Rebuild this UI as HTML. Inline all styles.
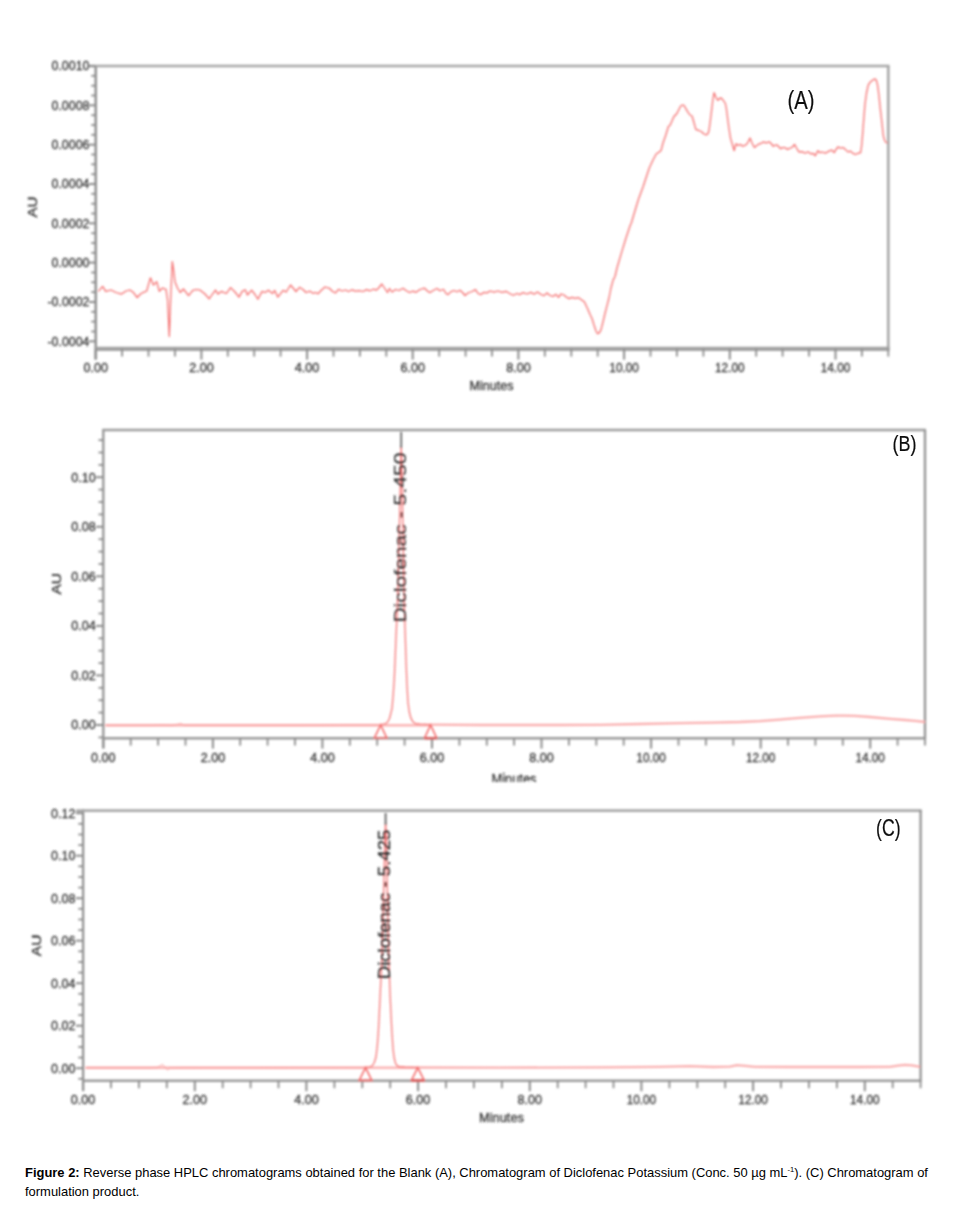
<!DOCTYPE html>
<html><head><meta charset="utf-8"><title>Figure 2</title>
<style>
html,body{margin:0;padding:0;background:#fff;}
body{width:953px;height:1206px;position:relative;overflow:hidden;font-family:"Liberation Sans",sans-serif;}
.cap{position:absolute;left:25px;top:1163px;width:925px;font-size:12.95px;line-height:19px;color:#000;white-space:nowrap;}
.cap b{font-weight:bold;}
.cap sup{font-size:7.6px;line-height:0;vertical-align:5.5px;}
</style></head><body>
<svg width="953" height="1206" viewBox="0 0 953 1206" style="position:absolute;left:0;top:0">
<defs><clipPath id="clipB"><rect x="440" y="760" width="160" height="21.7"/></clipPath>
<filter id="bl" x="-2%" y="-2%" width="104%" height="104%"><feGaussianBlur stdDeviation="0.9"/></filter>
<filter id="bl2" x="-10%" y="-10%" width="120%" height="120%"><feGaussianBlur stdDeviation="0.45"/></filter></defs>
<g filter="url(#bl)" font-family="Liberation Sans, sans-serif">
<line x1="95.7" y1="65.0" x2="95.7" y2="359.6" stroke="#8c8c8c" stroke-width="2.4"/>
<line x1="88.8" y1="66.0" x2="889.5" y2="66.0" stroke="#a6a6a6" stroke-width="2.6"/>
<line x1="888.3" y1="66.0" x2="888.3" y2="349.8" stroke="#a6a6a6" stroke-width="2.6"/>
<line x1="95.7" y1="348.8" x2="889.5" y2="348.8" stroke="#a2a2a2" stroke-width="4.2"/>
<line x1="88.8" y1="66.0" x2="95.7" y2="66.0" stroke="#8c8c8c" stroke-width="2.0"/>
<line x1="91.2" y1="75.8" x2="95.7" y2="75.8" stroke="#8c8c8c" stroke-width="1.8"/>
<line x1="91.2" y1="85.7" x2="95.7" y2="85.7" stroke="#8c8c8c" stroke-width="1.8"/>
<line x1="91.2" y1="95.5" x2="95.7" y2="95.5" stroke="#8c8c8c" stroke-width="1.8"/>
<line x1="88.8" y1="105.3" x2="95.7" y2="105.3" stroke="#8c8c8c" stroke-width="2.0"/>
<line x1="91.2" y1="115.2" x2="95.7" y2="115.2" stroke="#8c8c8c" stroke-width="1.8"/>
<line x1="91.2" y1="125.0" x2="95.7" y2="125.0" stroke="#8c8c8c" stroke-width="1.8"/>
<line x1="91.2" y1="134.8" x2="95.7" y2="134.8" stroke="#8c8c8c" stroke-width="1.8"/>
<line x1="88.8" y1="144.7" x2="95.7" y2="144.7" stroke="#8c8c8c" stroke-width="2.0"/>
<line x1="91.2" y1="154.5" x2="95.7" y2="154.5" stroke="#8c8c8c" stroke-width="1.8"/>
<line x1="91.2" y1="164.3" x2="95.7" y2="164.3" stroke="#8c8c8c" stroke-width="1.8"/>
<line x1="91.2" y1="174.2" x2="95.7" y2="174.2" stroke="#8c8c8c" stroke-width="1.8"/>
<line x1="88.8" y1="184.0" x2="95.7" y2="184.0" stroke="#8c8c8c" stroke-width="2.0"/>
<line x1="91.2" y1="193.8" x2="95.7" y2="193.8" stroke="#8c8c8c" stroke-width="1.8"/>
<line x1="91.2" y1="203.7" x2="95.7" y2="203.7" stroke="#8c8c8c" stroke-width="1.8"/>
<line x1="91.2" y1="213.5" x2="95.7" y2="213.5" stroke="#8c8c8c" stroke-width="1.8"/>
<line x1="88.8" y1="223.3" x2="95.7" y2="223.3" stroke="#8c8c8c" stroke-width="2.0"/>
<line x1="91.2" y1="233.2" x2="95.7" y2="233.2" stroke="#8c8c8c" stroke-width="1.8"/>
<line x1="91.2" y1="243.0" x2="95.7" y2="243.0" stroke="#8c8c8c" stroke-width="1.8"/>
<line x1="91.2" y1="252.8" x2="95.7" y2="252.8" stroke="#8c8c8c" stroke-width="1.8"/>
<line x1="88.8" y1="262.6" x2="95.7" y2="262.6" stroke="#8c8c8c" stroke-width="2.0"/>
<line x1="91.2" y1="272.5" x2="95.7" y2="272.5" stroke="#8c8c8c" stroke-width="1.8"/>
<line x1="91.2" y1="282.3" x2="95.7" y2="282.3" stroke="#8c8c8c" stroke-width="1.8"/>
<line x1="91.2" y1="292.1" x2="95.7" y2="292.1" stroke="#8c8c8c" stroke-width="1.8"/>
<line x1="88.8" y1="302.0" x2="95.7" y2="302.0" stroke="#8c8c8c" stroke-width="2.0"/>
<line x1="91.2" y1="311.8" x2="95.7" y2="311.8" stroke="#8c8c8c" stroke-width="1.8"/>
<line x1="91.2" y1="321.6" x2="95.7" y2="321.6" stroke="#8c8c8c" stroke-width="1.8"/>
<line x1="91.2" y1="331.5" x2="95.7" y2="331.5" stroke="#8c8c8c" stroke-width="1.8"/>
<line x1="88.8" y1="341.3" x2="95.7" y2="341.3" stroke="#8c8c8c" stroke-width="2.0"/>
<text x="89.5" y="70.3" font-size="13.5" text-anchor="end" textLength="38.0" lengthAdjust="spacingAndGlyphs" fill="#333" stroke="#333" stroke-width="0.3">0.0010</text>
<text x="89.5" y="109.6" font-size="13.5" text-anchor="end" textLength="38.0" lengthAdjust="spacingAndGlyphs" fill="#333" stroke="#333" stroke-width="0.3">0.0008</text>
<text x="89.5" y="149.0" font-size="13.5" text-anchor="end" textLength="38.0" lengthAdjust="spacingAndGlyphs" fill="#333" stroke="#333" stroke-width="0.3">0.0006</text>
<text x="89.5" y="188.3" font-size="13.5" text-anchor="end" textLength="38.0" lengthAdjust="spacingAndGlyphs" fill="#333" stroke="#333" stroke-width="0.3">0.0004</text>
<text x="89.5" y="227.6" font-size="13.5" text-anchor="end" textLength="38.0" lengthAdjust="spacingAndGlyphs" fill="#333" stroke="#333" stroke-width="0.3">0.0002</text>
<text x="89.5" y="266.9" font-size="13.5" text-anchor="end" textLength="38.0" lengthAdjust="spacingAndGlyphs" fill="#333" stroke="#333" stroke-width="0.3">0.0000</text>
<text x="89.5" y="306.3" font-size="13.5" text-anchor="end" textLength="42.0" lengthAdjust="spacingAndGlyphs" fill="#333" stroke="#333" stroke-width="0.3">-0.0002</text>
<text x="89.5" y="345.6" font-size="13.5" text-anchor="end" textLength="42.0" lengthAdjust="spacingAndGlyphs" fill="#333" stroke="#333" stroke-width="0.3">-0.0004</text>
<line x1="95.7" y1="348.8" x2="95.7" y2="359.6" stroke="#8c8c8c" stroke-width="2.0"/>
<line x1="122.1" y1="348.8" x2="122.1" y2="356.6" stroke="#8c8c8c" stroke-width="1.8"/>
<line x1="148.5" y1="348.8" x2="148.5" y2="356.6" stroke="#8c8c8c" stroke-width="1.8"/>
<line x1="175.0" y1="348.8" x2="175.0" y2="356.6" stroke="#8c8c8c" stroke-width="1.8"/>
<line x1="201.4" y1="348.8" x2="201.4" y2="359.6" stroke="#8c8c8c" stroke-width="2.0"/>
<line x1="227.8" y1="348.8" x2="227.8" y2="356.6" stroke="#8c8c8c" stroke-width="1.8"/>
<line x1="254.2" y1="348.8" x2="254.2" y2="356.6" stroke="#8c8c8c" stroke-width="1.8"/>
<line x1="280.6" y1="348.8" x2="280.6" y2="356.6" stroke="#8c8c8c" stroke-width="1.8"/>
<line x1="307.1" y1="348.8" x2="307.1" y2="359.6" stroke="#8c8c8c" stroke-width="2.0"/>
<line x1="333.5" y1="348.8" x2="333.5" y2="356.6" stroke="#8c8c8c" stroke-width="1.8"/>
<line x1="359.9" y1="348.8" x2="359.9" y2="356.6" stroke="#8c8c8c" stroke-width="1.8"/>
<line x1="386.3" y1="348.8" x2="386.3" y2="356.6" stroke="#8c8c8c" stroke-width="1.8"/>
<line x1="412.7" y1="348.8" x2="412.7" y2="359.6" stroke="#8c8c8c" stroke-width="2.0"/>
<line x1="439.2" y1="348.8" x2="439.2" y2="356.6" stroke="#8c8c8c" stroke-width="1.8"/>
<line x1="465.6" y1="348.8" x2="465.6" y2="356.6" stroke="#8c8c8c" stroke-width="1.8"/>
<line x1="492.0" y1="348.8" x2="492.0" y2="356.6" stroke="#8c8c8c" stroke-width="1.8"/>
<line x1="518.4" y1="348.8" x2="518.4" y2="359.6" stroke="#8c8c8c" stroke-width="2.0"/>
<line x1="544.8" y1="348.8" x2="544.8" y2="356.6" stroke="#8c8c8c" stroke-width="1.8"/>
<line x1="571.3" y1="348.8" x2="571.3" y2="356.6" stroke="#8c8c8c" stroke-width="1.8"/>
<line x1="597.7" y1="348.8" x2="597.7" y2="356.6" stroke="#8c8c8c" stroke-width="1.8"/>
<line x1="624.1" y1="348.8" x2="624.1" y2="359.6" stroke="#8c8c8c" stroke-width="2.0"/>
<line x1="650.5" y1="348.8" x2="650.5" y2="356.6" stroke="#8c8c8c" stroke-width="1.8"/>
<line x1="676.9" y1="348.8" x2="676.9" y2="356.6" stroke="#8c8c8c" stroke-width="1.8"/>
<line x1="703.4" y1="348.8" x2="703.4" y2="356.6" stroke="#8c8c8c" stroke-width="1.8"/>
<line x1="729.8" y1="348.8" x2="729.8" y2="359.6" stroke="#8c8c8c" stroke-width="2.0"/>
<line x1="756.2" y1="348.8" x2="756.2" y2="356.6" stroke="#8c8c8c" stroke-width="1.8"/>
<line x1="782.6" y1="348.8" x2="782.6" y2="356.6" stroke="#8c8c8c" stroke-width="1.8"/>
<line x1="809.0" y1="348.8" x2="809.0" y2="356.6" stroke="#8c8c8c" stroke-width="1.8"/>
<line x1="835.5" y1="348.8" x2="835.5" y2="359.6" stroke="#8c8c8c" stroke-width="2.0"/>
<line x1="861.9" y1="348.8" x2="861.9" y2="356.6" stroke="#8c8c8c" stroke-width="1.8"/>
<line x1="888.3" y1="348.8" x2="888.3" y2="356.6" stroke="#8c8c8c" stroke-width="1.8"/>
<text x="95.7" y="371.8" font-size="13.5" text-anchor="middle" textLength="24.5" lengthAdjust="spacingAndGlyphs" fill="#333" stroke="#333" stroke-width="0.3">0.00</text>
<text x="201.4" y="371.8" font-size="13.5" text-anchor="middle" textLength="24.5" lengthAdjust="spacingAndGlyphs" fill="#333" stroke="#333" stroke-width="0.3">2.00</text>
<text x="307.1" y="371.8" font-size="13.5" text-anchor="middle" textLength="24.5" lengthAdjust="spacingAndGlyphs" fill="#333" stroke="#333" stroke-width="0.3">4.00</text>
<text x="412.7" y="371.8" font-size="13.5" text-anchor="middle" textLength="24.5" lengthAdjust="spacingAndGlyphs" fill="#333" stroke="#333" stroke-width="0.3">6.00</text>
<text x="518.4" y="371.8" font-size="13.5" text-anchor="middle" textLength="24.5" lengthAdjust="spacingAndGlyphs" fill="#333" stroke="#333" stroke-width="0.3">8.00</text>
<text x="624.1" y="371.8" font-size="13.5" text-anchor="middle" textLength="29.5" lengthAdjust="spacingAndGlyphs" fill="#333" stroke="#333" stroke-width="0.3">10.00</text>
<text x="729.8" y="371.8" font-size="13.5" text-anchor="middle" textLength="29.5" lengthAdjust="spacingAndGlyphs" fill="#333" stroke="#333" stroke-width="0.3">12.00</text>
<text x="835.5" y="371.8" font-size="13.5" text-anchor="middle" textLength="29.5" lengthAdjust="spacingAndGlyphs" fill="#333" stroke="#333" stroke-width="0.3">14.00</text>
<text x="491.5" y="390.2" font-size="13.5" text-anchor="middle" textLength="44.0" lengthAdjust="spacingAndGlyphs" fill="#333" stroke="#333" stroke-width="0.3">Minutes</text>
<text x="36.6" y="207.0" font-size="13.5" text-anchor="middle" textLength="21.0" lengthAdjust="spacingAndGlyphs" transform="rotate(-90 36.6 207.0)" fill="#333" stroke="#333" stroke-width="0.3">AU</text>
<polyline points="98.4,291.4 102.6,286.4 105.7,291.4 111.0,290.0 116.0,292.5 121.5,294.1 126.0,291.0 129.9,290.0 133.5,292.6 137.2,297.5 140.5,294.0 143.5,292.3 146.7,291.0 150.4,277.8 153.4,285.1 156.7,281.6 159.3,291.4 162.4,288.0 166.0,289.3 167.6,300.0 169.3,336.5 170.6,300.0 172.3,261.5 173.6,270.0 175.0,282.0 177.5,288.0 180.2,292.5 183.4,289.0 188.6,295.6 192.8,290.4 196.5,289.5 200.2,290.2 205.0,294.0 209.2,298.8 212.5,294.0 215.5,290.0 218.0,294.1 221.2,291.4 226.4,293.5 230.6,287.6 235.0,292.0 239.0,297.1 242.2,291.4 245.3,289.8 247.4,295.0 251.6,290.2 255.0,294.5 257.9,299.2 262.1,291.4 265.0,292.5 268.4,290.2 272.6,293.5 274.7,290.4 277.8,297.1 283.1,290.4 286.2,292.0 290.5,285.0 293.5,288.5 296.0,291.5 299.5,287.3 303.0,289.5 306.0,292.5 310.0,291.2 313.0,293.3 315.7,292.5 318.0,293.8 321.0,290.5 325.0,287.0 329.5,288.3 332.5,291.5 335.6,292.8 338.5,289.3 342.0,291.0 345.5,290.0 348.5,291.5 352.0,289.8 355.5,291.2 359.0,290.6 363.0,291.5 366.5,289.6 370.0,290.8 373.5,289.2 376.5,290.2 379.0,287.5 381.8,284.0 384.5,288.0 387.5,292.5 389.5,288.5 392.0,292.0 395.5,289.5 399.0,290.5 403.0,288.3 406.0,290.5 409.5,292.5 413.0,291.2 416.0,292.3 420.0,289.5 424.5,288.2 428.0,291.5 430.0,292.6 434.0,290.0 437.0,288.5 440.0,290.8 443.5,289.3 446.0,293.5 448.0,294.6 451.0,291.6 454.0,290.5 457.0,291.8 460.0,290.2 463.0,293.0 465.0,295.5 468.0,293.0 472.0,291.5 475.5,289.6 478.0,293.5 481.0,294.6 484.0,292.3 487.0,292.9 490.0,291.0 494.0,292.2 498.0,291.0 502.0,292.4 506.0,291.3 510.0,293.8 513.3,295.3 517.0,293.5 520.0,294.6 523.0,292.6 527.0,294.0 531.0,292.3 534.0,294.2 537.5,292.0 541.0,294.5 544.0,295.6 547.0,293.0 550.0,295.5 553.0,296.4 556.0,294.3 558.5,297.3 561.0,294.0 564.0,295.0 566.2,297.0 569.0,298.6 572.0,297.4 575.0,298.4 578.3,297.6 581.0,299.4 584.3,301.8 587.5,308.5 590.3,315.0 592.0,318.5 594.0,325.0 596.0,331.0 597.5,333.8 599.5,332.6 601.1,329.4 603.0,322.0 605.0,313.5 607.1,305.4 609.0,298.0 611.0,288.0 613.1,280.1 615.0,276.5 617.0,268.0 621.6,252.4 626.0,238.0 630.0,226.0 631.5,222.5 634.0,214.0 638.4,199.5 643.0,187.0 649.2,168.3 653.0,160.0 656.4,153.8 659.0,152.2 661.2,150.2 663.0,143.0 665.5,136.0 668.5,126.2 670.0,125.5 673.8,116.7 676.9,113.5 680.7,106.0 682.5,105.0 683.9,105.3 687.6,111.6 690.0,115.0 692.0,116.0 693.8,122.0 695.8,129.3 698.5,130.3 701.5,131.8 704.0,134.0 706.5,134.9 708.0,133.5 709.0,130.5 710.3,121.0 711.6,110.4 712.8,100.0 714.1,92.7 716.0,97.5 717.9,100.3 719.5,98.5 721.0,97.8 723.0,100.0 725.4,103.5 726.6,110.0 727.9,120.5 729.2,130.0 730.5,138.1 732.5,145.0 734.2,150.7 735.3,146.0 736.1,143.8 738.0,145.5 740.5,144.4 742.5,146.2 744.3,145.6 746.0,144.8 747.5,143.1 749.0,140.0 750.0,138.1 752.0,143.0 754.4,147.5 756.0,146.3 758.2,144.4 760.5,143.7 763.2,141.9 766.0,142.8 769.5,141.9 771.5,144.0 773.3,146.3 775.0,145.2 777.1,145.0 779.0,147.0 780.8,148.8 782.5,147.6 784.6,147.5 787.6,149.4 790.0,148.2 792.0,147.5 794.5,144.4 796.5,148.0 798.9,151.9 802.0,151.6 805.2,153.2 808.0,151.8 811.0,153.9 813.0,153.3 815.3,155.7 816.5,153.5 817.8,150.7 820.0,152.7 822.0,152.0 825.4,153.2 828.5,151.4 831.7,150.0 834.2,152.6 836.0,149.5 838.0,146.9 840.5,148.2 843.0,147.5 845.5,149.6 848.0,151.9 850.5,151.2 853.0,153.4 855.6,154.5 858.0,153.3 860.6,152.6 861.6,146.0 862.5,135.6 863.7,120.0 865.0,104.0 866.5,93.0 868.2,85.2 870.0,82.3 872.0,80.8 873.5,79.5 875.1,78.9 876.4,80.5 877.6,85.2 878.9,95.0 880.2,107.9 881.7,121.0 883.3,135.6 884.5,140.0 885.8,142.5 887.5,142.8" fill="none" stroke="#f46a6a" stroke-width="1.25" stroke-linejoin="round" />
<line x1="103.3" y1="429.0" x2="103.3" y2="748.3" stroke="#8e8e8e" stroke-width="2.2"/>
<line x1="102.3" y1="430.0" x2="926.0" y2="430.0" stroke="#9c9c9c" stroke-width="2.4"/>
<line x1="925.0" y1="430.0" x2="925.0" y2="739.3" stroke="#8e8e8e" stroke-width="2.2"/>
<line x1="103.3" y1="738.3" x2="925.0" y2="738.3" stroke="#9a9a9a" stroke-width="2.6"/>
<line x1="98.5" y1="737.4" x2="103.3" y2="737.4" stroke="#8c8c8c" stroke-width="1.8"/>
<line x1="96.1" y1="725.0" x2="103.3" y2="725.0" stroke="#8c8c8c" stroke-width="2.0"/>
<line x1="98.5" y1="712.6" x2="103.3" y2="712.6" stroke="#8c8c8c" stroke-width="1.8"/>
<line x1="98.5" y1="700.2" x2="103.3" y2="700.2" stroke="#8c8c8c" stroke-width="1.8"/>
<line x1="98.5" y1="687.8" x2="103.3" y2="687.8" stroke="#8c8c8c" stroke-width="1.8"/>
<line x1="96.1" y1="675.4" x2="103.3" y2="675.4" stroke="#8c8c8c" stroke-width="2.0"/>
<line x1="98.5" y1="663.1" x2="103.3" y2="663.1" stroke="#8c8c8c" stroke-width="1.8"/>
<line x1="98.5" y1="650.7" x2="103.3" y2="650.7" stroke="#8c8c8c" stroke-width="1.8"/>
<line x1="98.5" y1="638.3" x2="103.3" y2="638.3" stroke="#8c8c8c" stroke-width="1.8"/>
<line x1="96.1" y1="625.9" x2="103.3" y2="625.9" stroke="#8c8c8c" stroke-width="2.0"/>
<line x1="98.5" y1="613.5" x2="103.3" y2="613.5" stroke="#8c8c8c" stroke-width="1.8"/>
<line x1="98.5" y1="601.1" x2="103.3" y2="601.1" stroke="#8c8c8c" stroke-width="1.8"/>
<line x1="98.5" y1="588.7" x2="103.3" y2="588.7" stroke="#8c8c8c" stroke-width="1.8"/>
<line x1="96.1" y1="576.3" x2="103.3" y2="576.3" stroke="#8c8c8c" stroke-width="2.0"/>
<line x1="98.5" y1="564.0" x2="103.3" y2="564.0" stroke="#8c8c8c" stroke-width="1.8"/>
<line x1="98.5" y1="551.6" x2="103.3" y2="551.6" stroke="#8c8c8c" stroke-width="1.8"/>
<line x1="98.5" y1="539.2" x2="103.3" y2="539.2" stroke="#8c8c8c" stroke-width="1.8"/>
<line x1="96.1" y1="526.8" x2="103.3" y2="526.8" stroke="#8c8c8c" stroke-width="2.0"/>
<line x1="98.5" y1="514.4" x2="103.3" y2="514.4" stroke="#8c8c8c" stroke-width="1.8"/>
<line x1="98.5" y1="502.0" x2="103.3" y2="502.0" stroke="#8c8c8c" stroke-width="1.8"/>
<line x1="98.5" y1="489.6" x2="103.3" y2="489.6" stroke="#8c8c8c" stroke-width="1.8"/>
<line x1="96.1" y1="477.2" x2="103.3" y2="477.2" stroke="#8c8c8c" stroke-width="2.0"/>
<line x1="98.5" y1="464.9" x2="103.3" y2="464.9" stroke="#8c8c8c" stroke-width="1.8"/>
<line x1="98.5" y1="452.5" x2="103.3" y2="452.5" stroke="#8c8c8c" stroke-width="1.8"/>
<line x1="98.5" y1="440.1" x2="103.3" y2="440.1" stroke="#8c8c8c" stroke-width="1.8"/>
<text x="95.7" y="729.3" font-size="13.5" text-anchor="end" textLength="24.5" lengthAdjust="spacingAndGlyphs" fill="#333" stroke="#333" stroke-width="0.3">0.00</text>
<text x="95.7" y="679.8" font-size="13.5" text-anchor="end" textLength="24.5" lengthAdjust="spacingAndGlyphs" fill="#333" stroke="#333" stroke-width="0.3">0.02</text>
<text x="95.7" y="630.2" font-size="13.5" text-anchor="end" textLength="24.5" lengthAdjust="spacingAndGlyphs" fill="#333" stroke="#333" stroke-width="0.3">0.04</text>
<text x="95.7" y="580.6" font-size="13.5" text-anchor="end" textLength="24.5" lengthAdjust="spacingAndGlyphs" fill="#333" stroke="#333" stroke-width="0.3">0.06</text>
<text x="95.7" y="531.1" font-size="13.5" text-anchor="end" textLength="24.5" lengthAdjust="spacingAndGlyphs" fill="#333" stroke="#333" stroke-width="0.3">0.08</text>
<text x="95.7" y="481.6" font-size="13.5" text-anchor="end" textLength="24.5" lengthAdjust="spacingAndGlyphs" fill="#333" stroke="#333" stroke-width="0.3">0.10</text>
<line x1="103.3" y1="738.3" x2="103.3" y2="748.6" stroke="#8c8c8c" stroke-width="2.0"/>
<line x1="130.7" y1="738.3" x2="130.7" y2="745.6" stroke="#8c8c8c" stroke-width="1.8"/>
<line x1="158.1" y1="738.3" x2="158.1" y2="745.6" stroke="#8c8c8c" stroke-width="1.8"/>
<line x1="185.5" y1="738.3" x2="185.5" y2="745.6" stroke="#8c8c8c" stroke-width="1.8"/>
<line x1="212.9" y1="738.3" x2="212.9" y2="748.6" stroke="#8c8c8c" stroke-width="2.0"/>
<line x1="240.2" y1="738.3" x2="240.2" y2="745.6" stroke="#8c8c8c" stroke-width="1.8"/>
<line x1="267.6" y1="738.3" x2="267.6" y2="745.6" stroke="#8c8c8c" stroke-width="1.8"/>
<line x1="295.0" y1="738.3" x2="295.0" y2="745.6" stroke="#8c8c8c" stroke-width="1.8"/>
<line x1="322.4" y1="738.3" x2="322.4" y2="748.6" stroke="#8c8c8c" stroke-width="2.0"/>
<line x1="349.8" y1="738.3" x2="349.8" y2="745.6" stroke="#8c8c8c" stroke-width="1.8"/>
<line x1="377.2" y1="738.3" x2="377.2" y2="745.6" stroke="#8c8c8c" stroke-width="1.8"/>
<line x1="404.6" y1="738.3" x2="404.6" y2="745.6" stroke="#8c8c8c" stroke-width="1.8"/>
<line x1="432.0" y1="738.3" x2="432.0" y2="748.6" stroke="#8c8c8c" stroke-width="2.0"/>
<line x1="459.4" y1="738.3" x2="459.4" y2="745.6" stroke="#8c8c8c" stroke-width="1.8"/>
<line x1="486.8" y1="738.3" x2="486.8" y2="745.6" stroke="#8c8c8c" stroke-width="1.8"/>
<line x1="514.1" y1="738.3" x2="514.1" y2="745.6" stroke="#8c8c8c" stroke-width="1.8"/>
<line x1="541.5" y1="738.3" x2="541.5" y2="748.6" stroke="#8c8c8c" stroke-width="2.0"/>
<line x1="568.9" y1="738.3" x2="568.9" y2="745.6" stroke="#8c8c8c" stroke-width="1.8"/>
<line x1="596.3" y1="738.3" x2="596.3" y2="745.6" stroke="#8c8c8c" stroke-width="1.8"/>
<line x1="623.7" y1="738.3" x2="623.7" y2="745.6" stroke="#8c8c8c" stroke-width="1.8"/>
<line x1="651.1" y1="738.3" x2="651.1" y2="748.6" stroke="#8c8c8c" stroke-width="2.0"/>
<line x1="678.5" y1="738.3" x2="678.5" y2="745.6" stroke="#8c8c8c" stroke-width="1.8"/>
<line x1="705.9" y1="738.3" x2="705.9" y2="745.6" stroke="#8c8c8c" stroke-width="1.8"/>
<line x1="733.3" y1="738.3" x2="733.3" y2="745.6" stroke="#8c8c8c" stroke-width="1.8"/>
<line x1="760.7" y1="738.3" x2="760.7" y2="748.6" stroke="#8c8c8c" stroke-width="2.0"/>
<line x1="788.0" y1="738.3" x2="788.0" y2="745.6" stroke="#8c8c8c" stroke-width="1.8"/>
<line x1="815.4" y1="738.3" x2="815.4" y2="745.6" stroke="#8c8c8c" stroke-width="1.8"/>
<line x1="842.8" y1="738.3" x2="842.8" y2="745.6" stroke="#8c8c8c" stroke-width="1.8"/>
<line x1="870.2" y1="738.3" x2="870.2" y2="748.6" stroke="#8c8c8c" stroke-width="2.0"/>
<line x1="897.6" y1="738.3" x2="897.6" y2="745.6" stroke="#8c8c8c" stroke-width="1.8"/>
<line x1="925.0" y1="738.3" x2="925.0" y2="745.6" stroke="#8c8c8c" stroke-width="1.8"/>
<text x="103.3" y="762.4" font-size="13.5" text-anchor="middle" textLength="24.5" lengthAdjust="spacingAndGlyphs" fill="#333" stroke="#333" stroke-width="0.3">0.00</text>
<text x="212.9" y="762.4" font-size="13.5" text-anchor="middle" textLength="24.5" lengthAdjust="spacingAndGlyphs" fill="#333" stroke="#333" stroke-width="0.3">2.00</text>
<text x="322.4" y="762.4" font-size="13.5" text-anchor="middle" textLength="24.5" lengthAdjust="spacingAndGlyphs" fill="#333" stroke="#333" stroke-width="0.3">4.00</text>
<text x="432.0" y="762.4" font-size="13.5" text-anchor="middle" textLength="24.5" lengthAdjust="spacingAndGlyphs" fill="#333" stroke="#333" stroke-width="0.3">6.00</text>
<text x="541.5" y="762.4" font-size="13.5" text-anchor="middle" textLength="24.5" lengthAdjust="spacingAndGlyphs" fill="#333" stroke="#333" stroke-width="0.3">8.00</text>
<text x="651.1" y="762.4" font-size="13.5" text-anchor="middle" textLength="29.5" lengthAdjust="spacingAndGlyphs" fill="#333" stroke="#333" stroke-width="0.3">10.00</text>
<text x="760.7" y="762.4" font-size="13.5" text-anchor="middle" textLength="29.5" lengthAdjust="spacingAndGlyphs" fill="#333" stroke="#333" stroke-width="0.3">12.00</text>
<text x="870.2" y="762.4" font-size="13.5" text-anchor="middle" textLength="29.5" lengthAdjust="spacingAndGlyphs" fill="#333" stroke="#333" stroke-width="0.3">14.00</text>
<g clip-path="url(#clipB)"><text x="514.0" y="783.7" font-size="15.5" text-anchor="middle" textLength="45.0" lengthAdjust="spacingAndGlyphs" fill="#333" stroke="#333" stroke-width="0.3">Minutes</text></g>
<text x="60.9" y="583.7" font-size="13.5" text-anchor="middle" textLength="21.5" lengthAdjust="spacingAndGlyphs" transform="rotate(-90 60.9 583.7)" fill="#333" stroke="#333" stroke-width="0.3">AU</text>
<line x1="105.5" y1="725.3" x2="430.6" y2="725.3" stroke="#fbb4b4" stroke-width="2.4"/>
<polyline points="430.6,724.6 480.0,725.0 560.0,725.0 600.0,724.8 640.0,724.0 680.0,723.2 713.0,722.6 740.0,722.0 760.0,721.1 780.0,719.6 800.0,717.8 820.0,716.4 835.0,715.7 844.0,715.6 855.0,715.9 870.0,717.0 890.0,718.8 905.0,720.0 915.0,720.9 925.0,722.0" fill="none" stroke="#fcc0c0" stroke-width="2.3" stroke-linejoin="round" />
<polyline points="105.5,725.3 150.0,725.3 160.0,725.0 172.0,725.4 178.0,724.2 181.0,723.6 184.0,725.2 200.0,725.2 300.0,725.2 380.6,724.6" fill="none" stroke="#f78c8c" stroke-width="0.8" stroke-linejoin="round" />
<polyline points="430.6,724.6 480.0,725.0 560.0,725.0 600.0,724.8 640.0,724.0 680.0,723.2 713.0,722.6 740.0,722.0 760.0,721.1 780.0,719.6 800.0,717.8 820.0,716.4 835.0,715.7 844.0,715.6 855.0,715.9 870.0,717.0 890.0,718.8 905.0,720.0 915.0,720.9 925.0,722.0" fill="none" stroke="#f78c8c" stroke-width="0.7" stroke-linejoin="round" />
<polyline points="380.6,724.6 384.0,724.0 387.2,722.8 389.5,718.5 392.0,708.7 393.2,695.0 394.3,678.7 395.1,660.0 395.9,639.4 397.0,615.7 398.0,585.0 399.0,545.0 400.0,500.0 400.7,465.0 401.2,446.0 401.7,465.0 402.4,500.0 403.2,545.0 404.0,590.0 404.6,615.7 405.4,640.0 406.1,663.0 407.0,685.0 408.0,702.4 409.3,712.0 410.9,718.1 413.0,722.0 415.6,723.6 420.0,724.2 430.6,724.6" fill="none" stroke="#f46a6a" stroke-width="1.2" stroke-linejoin="round" />
<line x1="401.2" y1="432.0" x2="401.2" y2="448.0" stroke="#666" stroke-width="1.8"/>
<polygon points="380.6,725.0 374.4,738.0 386.8,738.0" fill="none" stroke="#f46a6a" stroke-width="1.6" stroke-linejoin="miter"/>
<polygon points="430.6,725.0 424.6,738.0 436.6,738.0" fill="none" stroke="#f46a6a" stroke-width="1.6" stroke-linejoin="miter"/>
<line x1="424.6" y1="738.2" x2="436.6" y2="738.2" stroke="#d85a5a" stroke-width="2.4"/>
<text x="405.6" y="622.6" font-size="16.5" text-anchor="start" textLength="170.0" lengthAdjust="spacingAndGlyphs" transform="rotate(-90 405.6 622.6)" fill="#333" stroke="#333" stroke-width="0.2">Diclofenac - 5.450</text>
<line x1="83.1" y1="809.0" x2="83.1" y2="1091.0" stroke="#8e8e8e" stroke-width="2.2"/>
<line x1="76.1" y1="810.6" x2="921.6" y2="810.6" stroke="#a8a8a8" stroke-width="2.6"/>
<line x1="920.6" y1="810.0" x2="920.6" y2="1081.8" stroke="#8e8e8e" stroke-width="2.2"/>
<line x1="83.1" y1="1080.8" x2="920.6" y2="1080.8" stroke="#9a9a9a" stroke-width="2.6"/>
<line x1="78.3" y1="1078.8" x2="83.1" y2="1078.8" stroke="#8c8c8c" stroke-width="1.8"/>
<line x1="75.9" y1="1068.2" x2="83.1" y2="1068.2" stroke="#8c8c8c" stroke-width="2.0"/>
<line x1="78.3" y1="1057.6" x2="83.1" y2="1057.6" stroke="#8c8c8c" stroke-width="1.8"/>
<line x1="78.3" y1="1047.0" x2="83.1" y2="1047.0" stroke="#8c8c8c" stroke-width="1.8"/>
<line x1="78.3" y1="1036.3" x2="83.1" y2="1036.3" stroke="#8c8c8c" stroke-width="1.8"/>
<line x1="75.9" y1="1025.7" x2="83.1" y2="1025.7" stroke="#8c8c8c" stroke-width="2.0"/>
<line x1="78.3" y1="1015.1" x2="83.1" y2="1015.1" stroke="#8c8c8c" stroke-width="1.8"/>
<line x1="78.3" y1="1004.5" x2="83.1" y2="1004.5" stroke="#8c8c8c" stroke-width="1.8"/>
<line x1="78.3" y1="993.8" x2="83.1" y2="993.8" stroke="#8c8c8c" stroke-width="1.8"/>
<line x1="75.9" y1="983.2" x2="83.1" y2="983.2" stroke="#8c8c8c" stroke-width="2.0"/>
<line x1="78.3" y1="972.6" x2="83.1" y2="972.6" stroke="#8c8c8c" stroke-width="1.8"/>
<line x1="78.3" y1="962.0" x2="83.1" y2="962.0" stroke="#8c8c8c" stroke-width="1.8"/>
<line x1="78.3" y1="951.3" x2="83.1" y2="951.3" stroke="#8c8c8c" stroke-width="1.8"/>
<line x1="75.9" y1="940.7" x2="83.1" y2="940.7" stroke="#8c8c8c" stroke-width="2.0"/>
<line x1="78.3" y1="930.1" x2="83.1" y2="930.1" stroke="#8c8c8c" stroke-width="1.8"/>
<line x1="78.3" y1="919.5" x2="83.1" y2="919.5" stroke="#8c8c8c" stroke-width="1.8"/>
<line x1="78.3" y1="908.8" x2="83.1" y2="908.8" stroke="#8c8c8c" stroke-width="1.8"/>
<line x1="75.9" y1="898.2" x2="83.1" y2="898.2" stroke="#8c8c8c" stroke-width="2.0"/>
<line x1="78.3" y1="887.6" x2="83.1" y2="887.6" stroke="#8c8c8c" stroke-width="1.8"/>
<line x1="78.3" y1="877.0" x2="83.1" y2="877.0" stroke="#8c8c8c" stroke-width="1.8"/>
<line x1="78.3" y1="866.3" x2="83.1" y2="866.3" stroke="#8c8c8c" stroke-width="1.8"/>
<line x1="75.9" y1="855.7" x2="83.1" y2="855.7" stroke="#8c8c8c" stroke-width="2.0"/>
<line x1="78.3" y1="845.1" x2="83.1" y2="845.1" stroke="#8c8c8c" stroke-width="1.8"/>
<line x1="78.3" y1="834.5" x2="83.1" y2="834.5" stroke="#8c8c8c" stroke-width="1.8"/>
<line x1="78.3" y1="823.8" x2="83.1" y2="823.8" stroke="#8c8c8c" stroke-width="1.8"/>
<line x1="75.9" y1="813.2" x2="83.1" y2="813.2" stroke="#8c8c8c" stroke-width="2.0"/>
<text x="75.5" y="1072.5" font-size="13.5" text-anchor="end" textLength="24.5" lengthAdjust="spacingAndGlyphs" fill="#333" stroke="#333" stroke-width="0.3">0.00</text>
<text x="75.5" y="1030.0" font-size="13.5" text-anchor="end" textLength="24.5" lengthAdjust="spacingAndGlyphs" fill="#333" stroke="#333" stroke-width="0.3">0.02</text>
<text x="75.5" y="987.5" font-size="13.5" text-anchor="end" textLength="24.5" lengthAdjust="spacingAndGlyphs" fill="#333" stroke="#333" stroke-width="0.3">0.04</text>
<text x="75.5" y="945.0" font-size="13.5" text-anchor="end" textLength="24.5" lengthAdjust="spacingAndGlyphs" fill="#333" stroke="#333" stroke-width="0.3">0.06</text>
<text x="75.5" y="902.5" font-size="13.5" text-anchor="end" textLength="24.5" lengthAdjust="spacingAndGlyphs" fill="#333" stroke="#333" stroke-width="0.3">0.08</text>
<text x="75.5" y="860.0" font-size="13.5" text-anchor="end" textLength="24.5" lengthAdjust="spacingAndGlyphs" fill="#333" stroke="#333" stroke-width="0.3">0.10</text>
<text x="75.5" y="817.5" font-size="13.5" text-anchor="end" textLength="24.5" lengthAdjust="spacingAndGlyphs" fill="#333" stroke="#333" stroke-width="0.3">0.12</text>
<line x1="83.1" y1="1080.8" x2="83.1" y2="1091.2" stroke="#8c8c8c" stroke-width="2.0"/>
<line x1="111.0" y1="1080.8" x2="111.0" y2="1088.2" stroke="#8c8c8c" stroke-width="1.8"/>
<line x1="138.9" y1="1080.8" x2="138.9" y2="1088.2" stroke="#8c8c8c" stroke-width="1.8"/>
<line x1="166.8" y1="1080.8" x2="166.8" y2="1088.2" stroke="#8c8c8c" stroke-width="1.8"/>
<line x1="194.8" y1="1080.8" x2="194.8" y2="1091.2" stroke="#8c8c8c" stroke-width="2.0"/>
<line x1="222.7" y1="1080.8" x2="222.7" y2="1088.2" stroke="#8c8c8c" stroke-width="1.8"/>
<line x1="250.6" y1="1080.8" x2="250.6" y2="1088.2" stroke="#8c8c8c" stroke-width="1.8"/>
<line x1="278.5" y1="1080.8" x2="278.5" y2="1088.2" stroke="#8c8c8c" stroke-width="1.8"/>
<line x1="306.4" y1="1080.8" x2="306.4" y2="1091.2" stroke="#8c8c8c" stroke-width="2.0"/>
<line x1="334.4" y1="1080.8" x2="334.4" y2="1088.2" stroke="#8c8c8c" stroke-width="1.8"/>
<line x1="362.3" y1="1080.8" x2="362.3" y2="1088.2" stroke="#8c8c8c" stroke-width="1.8"/>
<line x1="390.2" y1="1080.8" x2="390.2" y2="1088.2" stroke="#8c8c8c" stroke-width="1.8"/>
<line x1="418.1" y1="1080.8" x2="418.1" y2="1091.2" stroke="#8c8c8c" stroke-width="2.0"/>
<line x1="446.0" y1="1080.8" x2="446.0" y2="1088.2" stroke="#8c8c8c" stroke-width="1.8"/>
<line x1="473.9" y1="1080.8" x2="473.9" y2="1088.2" stroke="#8c8c8c" stroke-width="1.8"/>
<line x1="501.9" y1="1080.8" x2="501.9" y2="1088.2" stroke="#8c8c8c" stroke-width="1.8"/>
<line x1="529.8" y1="1080.8" x2="529.8" y2="1091.2" stroke="#8c8c8c" stroke-width="2.0"/>
<line x1="557.7" y1="1080.8" x2="557.7" y2="1088.2" stroke="#8c8c8c" stroke-width="1.8"/>
<line x1="585.6" y1="1080.8" x2="585.6" y2="1088.2" stroke="#8c8c8c" stroke-width="1.8"/>
<line x1="613.5" y1="1080.8" x2="613.5" y2="1088.2" stroke="#8c8c8c" stroke-width="1.8"/>
<line x1="641.4" y1="1080.8" x2="641.4" y2="1091.2" stroke="#8c8c8c" stroke-width="2.0"/>
<line x1="669.4" y1="1080.8" x2="669.4" y2="1088.2" stroke="#8c8c8c" stroke-width="1.8"/>
<line x1="697.3" y1="1080.8" x2="697.3" y2="1088.2" stroke="#8c8c8c" stroke-width="1.8"/>
<line x1="725.2" y1="1080.8" x2="725.2" y2="1088.2" stroke="#8c8c8c" stroke-width="1.8"/>
<line x1="753.1" y1="1080.8" x2="753.1" y2="1091.2" stroke="#8c8c8c" stroke-width="2.0"/>
<line x1="781.0" y1="1080.8" x2="781.0" y2="1088.2" stroke="#8c8c8c" stroke-width="1.8"/>
<line x1="808.9" y1="1080.8" x2="808.9" y2="1088.2" stroke="#8c8c8c" stroke-width="1.8"/>
<line x1="836.9" y1="1080.8" x2="836.9" y2="1088.2" stroke="#8c8c8c" stroke-width="1.8"/>
<line x1="864.8" y1="1080.8" x2="864.8" y2="1091.2" stroke="#8c8c8c" stroke-width="2.0"/>
<line x1="892.7" y1="1080.8" x2="892.7" y2="1088.2" stroke="#8c8c8c" stroke-width="1.8"/>
<line x1="920.6" y1="1080.8" x2="920.6" y2="1088.2" stroke="#8c8c8c" stroke-width="1.8"/>
<text x="83.1" y="1104.4" font-size="13.5" text-anchor="middle" textLength="24.5" lengthAdjust="spacingAndGlyphs" fill="#333" stroke="#333" stroke-width="0.3">0.00</text>
<text x="194.8" y="1104.4" font-size="13.5" text-anchor="middle" textLength="24.5" lengthAdjust="spacingAndGlyphs" fill="#333" stroke="#333" stroke-width="0.3">2.00</text>
<text x="306.4" y="1104.4" font-size="13.5" text-anchor="middle" textLength="24.5" lengthAdjust="spacingAndGlyphs" fill="#333" stroke="#333" stroke-width="0.3">4.00</text>
<text x="418.1" y="1104.4" font-size="13.5" text-anchor="middle" textLength="24.5" lengthAdjust="spacingAndGlyphs" fill="#333" stroke="#333" stroke-width="0.3">6.00</text>
<text x="529.8" y="1104.4" font-size="13.5" text-anchor="middle" textLength="24.5" lengthAdjust="spacingAndGlyphs" fill="#333" stroke="#333" stroke-width="0.3">8.00</text>
<text x="641.4" y="1104.4" font-size="13.5" text-anchor="middle" textLength="29.5" lengthAdjust="spacingAndGlyphs" fill="#333" stroke="#333" stroke-width="0.3">10.00</text>
<text x="753.1" y="1104.4" font-size="13.5" text-anchor="middle" textLength="29.5" lengthAdjust="spacingAndGlyphs" fill="#333" stroke="#333" stroke-width="0.3">12.00</text>
<text x="864.8" y="1104.4" font-size="13.5" text-anchor="middle" textLength="29.5" lengthAdjust="spacingAndGlyphs" fill="#333" stroke="#333" stroke-width="0.3">14.00</text>
<text x="501.5" y="1122.2" font-size="13.5" text-anchor="middle" textLength="45.0" lengthAdjust="spacingAndGlyphs" fill="#333" stroke="#333" stroke-width="0.3">Minutes</text>
<text x="41.0" y="945.4" font-size="13.5" text-anchor="middle" textLength="21.5" lengthAdjust="spacingAndGlyphs" transform="rotate(-90 41.0 945.4)" fill="#333" stroke="#333" stroke-width="0.3">AU</text>
<line x1="85.5" y1="1067.8" x2="417.8" y2="1067.8" stroke="#fbb4b4" stroke-width="2.4"/>
<polyline points="417.8,1067.5 500.0,1067.6 600.0,1067.4 660.0,1066.8 690.0,1066.2 713.0,1067.0 730.0,1066.6 737.0,1065.2 745.0,1065.8 755.0,1066.9 800.0,1067.0 860.0,1067.0 890.0,1066.8 898.0,1065.6 905.0,1064.8 912.0,1065.4 920.0,1066.8" fill="none" stroke="#fcc0c0" stroke-width="2.3" stroke-linejoin="round" />
<polyline points="85.5,1068.0 150.0,1068.0 157.0,1067.6 160.0,1066.0 162.5,1064.4 165.0,1067.5 167.5,1069.8 170.0,1068.2 180.0,1068.0 300.0,1067.8 365.5,1067.5" fill="none" stroke="#f78c8c" stroke-width="0.8" stroke-linejoin="round" />
<polyline points="417.8,1067.5 500.0,1067.6 600.0,1067.4 660.0,1066.8 690.0,1066.2 713.0,1067.0 730.0,1066.6 737.0,1065.2 745.0,1065.8 755.0,1066.9 800.0,1067.0 860.0,1067.0 890.0,1066.8 898.0,1065.6 905.0,1064.8 912.0,1065.4 920.0,1066.8" fill="none" stroke="#f78c8c" stroke-width="0.7" stroke-linejoin="round" />
<polyline points="365.5,1067.5 369.0,1067.0 372.2,1066.0 374.3,1062.5 376.0,1057.0 377.2,1047.0 378.2,1034.6 379.0,1020.0 379.7,1004.8 380.4,990.0 381.2,974.9 382.1,950.0 383.0,920.0 384.0,880.0 384.9,840.0 385.6,822.0 386.3,840.0 387.1,880.0 388.0,920.0 388.7,950.0 389.4,974.9 390.1,995.0 390.9,1012.2 391.9,1032.0 393.1,1049.6 394.2,1058.0 395.4,1063.0 397.0,1065.6 399.1,1066.7 405.0,1067.2 417.8,1067.5" fill="none" stroke="#f46a6a" stroke-width="1.2" stroke-linejoin="round" />
<line x1="385.6" y1="813.0" x2="385.6" y2="825.0" stroke="#666" stroke-width="1.9"/>
<polygon points="365.5,1067.6 359.2,1080.4 371.8,1080.4" fill="none" stroke="#f46a6a" stroke-width="1.6" stroke-linejoin="miter"/>
<polygon points="417.8,1067.6 411.4,1080.4 424.2,1080.4" fill="none" stroke="#f46a6a" stroke-width="1.6" stroke-linejoin="miter"/>
<line x1="411.4" y1="1080.6" x2="424.2" y2="1080.6" stroke="#d85a5a" stroke-width="2.4"/>
<text x="390.2" y="979.2" font-size="16" text-anchor="start" textLength="149.5" lengthAdjust="spacingAndGlyphs" transform="rotate(-90 390.2 979.2)" fill="#2c2c2c" stroke="#2c2c2c" stroke-width="0.35">Diclofenac - 5.425</text>
</g>
<g filter="url(#bl2)" font-family="Liberation Sans, sans-serif">
<text x="801.1" y="109.4" font-size="25.5" text-anchor="middle" textLength="27.0" lengthAdjust="spacingAndGlyphs" fill="#111" stroke="#111" stroke-width="0.2">(A)</text>
<text x="904.5" y="451.0" font-size="22.8" text-anchor="middle" textLength="24.0" lengthAdjust="spacingAndGlyphs" fill="#111" stroke="#111" stroke-width="0.2">(B)</text>
<text x="888.3" y="836.0" font-size="23.2" text-anchor="middle" textLength="24.5" lengthAdjust="spacingAndGlyphs" fill="#111" stroke="#111" stroke-width="0.2">(C)</text>
</g>
</svg>
<div class="cap"><b>Figure 2:</b> Reverse phase HPLC chromatograms obtained for the Blank (A), Chromatogram of Diclofenac Potassium (Conc. 50 µg mL<sup>-1</sup>). (C) Chromatogram of<br>formulation product.</div>
</body></html>
